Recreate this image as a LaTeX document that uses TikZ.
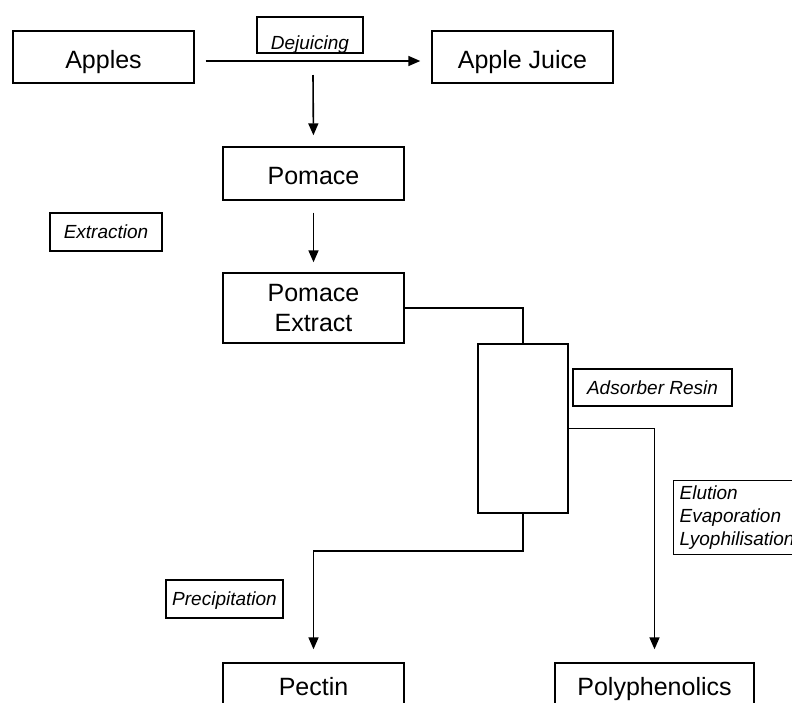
\documentclass[tikz,border=0pt]{standalone}
\usepackage{fontspec}
\setmainfont{Liberation Sans}
\usetikzlibrary{arrows.meta}
\begin{document}
\begin{tikzpicture}[x=1pt,y=-1pt,
  basebox/.style={draw,line width=1.4pt,inner sep=0pt,align=center,
    font=\fontsize{25}{30}\selectfont},
  box/.style={basebox,text height=22pt,text depth=0pt},
  lbl/.style={draw,line width=1.4pt,inner sep=0pt,
    text height=13.6pt,text depth=0pt,
    font=\fontsize{19}{23}\selectfont\itshape},
  conn/.style={line width=1.6pt},
  arr/.style={line width=1.6pt,-{Triangle[length=12pt,width=10pt]}}]
\useasboundingbox (0,0) rectangle (792,702);
\clip (0,0) rectangle (792,702);
% main boxes
\node[box,minimum width=181pt,minimum height=52pt] (apples) at (103.5,57) {Apples};
\node[box,minimum width=181pt,minimum height=52pt] (juice) at (522.5,57) {Apple Juice};
\node[box,minimum width=181pt,minimum height=53pt] (pomace) at (313.5,173.5) {Pomace};
\node[basebox,minimum width=181pt,minimum height=70pt] (extract) at (313.5,308) {Pomace\\Extract};
\node[draw,line width=1.4pt,minimum width=90pt,minimum height=169pt,inner sep=0pt] (col) at (523,428.5) {};
\node[box,text height=12pt,minimum width=181pt,minimum height=52pt] (pectin) at (313.5,689) {Pectin};
\node[box,text height=12pt,minimum width=199pt,minimum height=52pt] (poly) at (654.5,689) {Polyphenolics};
% process labels
\node[lbl,minimum width=106pt,minimum height=36pt,text height=28pt] (dejuicing) at (310,35) {Dejuicing};
\node[lbl,minimum width=112pt,minimum height=38pt] (extraction) at (106,232) {Extraction};
\node[lbl,minimum width=159pt,minimum height=37pt] (adsorber) at (652.5,387.5) {Adsorber Resin};
\node[draw,line width=1.4pt,font=\fontsize{19}{23}\selectfont\itshape,
  anchor=north west,minimum height=74pt,text width=128pt,align=left,
  inner xsep=6pt,inner ysep=0pt] (elution) at (673,480)
  {Elution\\Evaporation\\Lyophilisation};
\node[lbl,minimum width=117pt,minimum height=38pt] (precip) at (224.5,599) {Precipitation};
% connectors
\coordinate (split) at (313,75);
\draw[arr,shorten <=11pt,shorten >=11pt] ([yshift=-4pt]apples.east) -- ([yshift=-4pt]juice.west);
\draw[arr,shorten >=11pt] (split) -- (pomace.north);
\draw[arr,shorten <=12pt,shorten >=10pt] (pomace.south) -- (extract.north);
\draw[conn] (extract.east) -| (col.north);
\draw[arr,shorten >=13pt] (col.south) -- ++(0,37) -| (pectin.north);
\draw[arr,shorten >=13pt] (col.east) -| (poly.north);
\end{tikzpicture}
\end{document}
